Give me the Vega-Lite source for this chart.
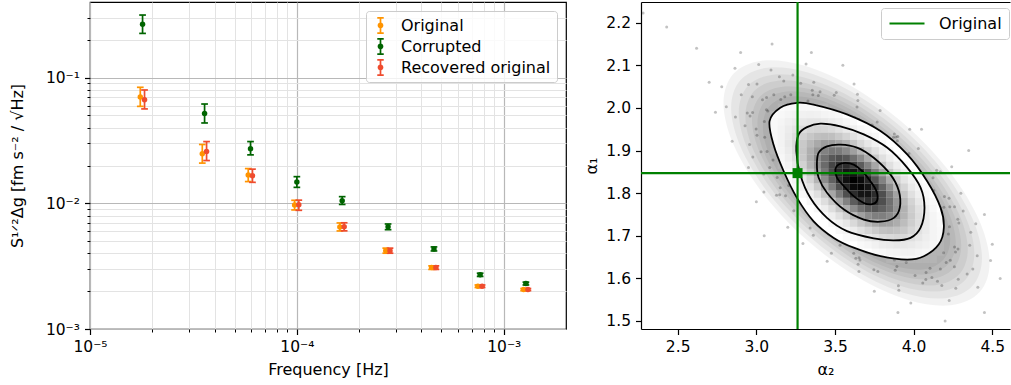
{
"$schema": "https://vega.github.io/schema/vega-lite/v6.json",
"padding": {"left": 8, "top": 0, "right": 0, "bottom": 0},
"spacing": 16,
"config": {
 "font": "DejaVu Sans",
 "view": {"stroke": null},
 "axis": {"labelFont": "DejaVu Sans", "titleFont": "DejaVu Sans", "labelFontSize": 15.5, "titleFontSize": 16, "titleFontWeight": "normal", "labelColor": "black", "titleColor": "black", "tickColor": "black", "domainColor": "black", "labelFlush": false},
 "legend": {"labelFont": "DejaVu Sans", "labelFontSize": 16, "labelColor": "black"}
},
"resolve": {"scale": {"color": "independent", "stroke": "independent", "fill": "independent"}, "legend": {"color": "independent", "stroke": "independent"}},
"datasets": {
 "psd": [
  {"s":"Original","f":1.75e-5,"y":0.0702,"lo":0.0591,"hi":0.0838},
  {"s":"Original","f":3.49e-5,"y":0.0248,"lo":0.0209,"hi":0.0294},
  {"s":"Original","f":5.82e-5,"y":0.0168,"lo":0.0149,"hi":0.0189},
  {"s":"Original","f":9.75e-5,"y":0.0097,"lo":0.00886,"hi":0.01057},
  {"s":"Original","f":1.614e-4,"y":0.00649,"lo":0.00603,"hi":0.00698},
  {"s":"Original","f":2.69e-4,"y":0.0042,"lo":0.00401,"hi":0.0044},
  {"s":"Original","f":4.48e-4,"y":0.00308,"lo":0.00298,"hi":0.00318},
  {"s":"Original","f":7.5e-4,"y":0.00219,"lo":0.00214,"hi":0.00224},
  {"s":"Original","f":1.248e-3,"y":0.00206,"lo":0.00202,"hi":0.0021},
  {"s":"Corrupted","f":1.795e-5,"y":0.266,"lo":0.225,"hi":0.315},
  {"s":"Corrupted","f":3.58e-5,"y":0.0518,"lo":0.0436,"hi":0.0617},
  {"s":"Corrupted","f":5.97e-5,"y":0.0272,"lo":0.0243,"hi":0.031},
  {"s":"Corrupted","f":1.0e-4,"y":0.0148,"lo":0.0134,"hi":0.0163},
  {"s":"Corrupted","f":1.656e-4,"y":0.0105,"lo":0.0098,"hi":0.0113},
  {"s":"Corrupted","f":2.76e-4,"y":0.00652,"lo":0.00617,"hi":0.00685},
  {"s":"Corrupted","f":4.6e-4,"y":0.00433,"lo":0.00418,"hi":0.0045},
  {"s":"Corrupted","f":7.69e-4,"y":0.0027,"lo":0.00262,"hi":0.00278},
  {"s":"Corrupted","f":1.28e-3,"y":0.0023,"lo":0.00224,"hi":0.00236},
  {"s":"Recovered original","f":1.835e-5,"y":0.0668,"lo":0.0564,"hi":0.0798},
  {"s":"Recovered original","f":3.66e-5,"y":0.0259,"lo":0.0219,"hi":0.031},
  {"s":"Recovered original","f":6.1e-5,"y":0.0166,"lo":0.0147,"hi":0.0187},
  {"s":"Recovered original","f":1.022e-4,"y":0.00976,"lo":0.0088,"hi":0.0106},
  {"s":"Recovered original","f":1.693e-4,"y":0.0065,"lo":0.00604,"hi":0.007},
  {"s":"Recovered original","f":2.82e-4,"y":0.0042,"lo":0.00401,"hi":0.0044},
  {"s":"Recovered original","f":4.7e-4,"y":0.00308,"lo":0.00298,"hi":0.00318},
  {"s":"Recovered original","f":7.86e-4,"y":0.00219,"lo":0.00214,"hi":0.00224},
  {"s":"Recovered original","f":1.309e-3,"y":0.00206,"lo":0.00202,"hi":0.0021}
 ],
 "cells": [
  {"x":3.848,"y":1.6445,"d":0.14},{"x":3.894,"y":1.6445,"d":0.15},{"x":3.94,"y":1.6445,"d":0.16},{"x":3.986,"y":1.6445,"d":0.17},{"x":4.032,"y":1.6445,"d":0.16},{"x":4.078,"y":1.6445,"d":0.15},{"x":4.124,"y":1.6445,"d":0.13},
  {"x":3.756,"y":1.6615,"d":0.15},{"x":3.802,"y":1.6615,"d":0.18},{"x":3.848,"y":1.6615,"d":0.21},{"x":3.894,"y":1.6615,"d":0.22},{"x":3.94,"y":1.6615,"d":0.23},{"x":3.986,"y":1.6615,"d":0.23},{"x":4.032,"y":1.6615,"d":0.21},{"x":4.078,"y":1.6615,"d":0.19},{"x":4.124,"y":1.6615,"d":0.16},{"x":4.17,"y":1.6615,"d":0.13},
  {"x":3.664,"y":1.6785,"d":0.15},{"x":3.71,"y":1.6785,"d":0.19},{"x":3.756,"y":1.6785,"d":0.23},{"x":3.802,"y":1.6785,"d":0.27},{"x":3.848,"y":1.6785,"d":0.29},{"x":3.894,"y":1.6785,"d":0.31},{"x":3.94,"y":1.6785,"d":0.30},{"x":3.986,"y":1.6785,"d":0.29},{"x":4.032,"y":1.6785,"d":0.26},{"x":4.078,"y":1.6785,"d":0.23},{"x":4.124,"y":1.6785,"d":0.19},{"x":4.17,"y":1.6785,"d":0.15},
  {"x":3.572,"y":1.6955,"d":0.14},{"x":3.618,"y":1.6955,"d":0.18},{"x":3.664,"y":1.6955,"d":0.23},{"x":3.71,"y":1.6955,"d":0.29},{"x":3.756,"y":1.6955,"d":0.33},{"x":3.802,"y":1.6955,"d":0.37},{"x":3.848,"y":1.6955,"d":0.39},{"x":3.894,"y":1.6955,"d":0.40},{"x":3.94,"y":1.6955,"d":0.38},{"x":3.986,"y":1.6955,"d":0.35},{"x":4.032,"y":1.6955,"d":0.31},{"x":4.078,"y":1.6955,"d":0.26},{"x":4.124,"y":1.6955,"d":0.21},{"x":4.17,"y":1.6955,"d":0.16},
  {"x":3.526,"y":1.7125,"d":0.16},{"x":3.572,"y":1.7125,"d":0.21},{"x":3.618,"y":1.7125,"d":0.27},{"x":3.664,"y":1.7125,"d":0.34},{"x":3.71,"y":1.7125,"d":0.40},{"x":3.756,"y":1.7125,"d":0.45},{"x":3.802,"y":1.7125,"d":0.49},{"x":3.848,"y":1.7125,"d":0.50},{"x":3.894,"y":1.7125,"d":0.49},{"x":3.94,"y":1.7125,"d":0.46},{"x":3.986,"y":1.7125,"d":0.40},{"x":4.032,"y":1.7125,"d":0.34},{"x":4.078,"y":1.7125,"d":0.28},{"x":4.124,"y":1.7125,"d":0.21},{"x":4.17,"y":1.7125,"d":0.16},
  {"x":3.48,"y":1.7295,"d":0.17},{"x":3.526,"y":1.7295,"d":0.24},{"x":3.572,"y":1.7295,"d":0.31},{"x":3.618,"y":1.7295,"d":0.39},{"x":3.664,"y":1.7295,"d":0.47},{"x":3.71,"y":1.7295,"d":0.53},{"x":3.756,"y":1.7295,"d":0.58},{"x":3.802,"y":1.7295,"d":0.61},{"x":3.848,"y":1.7295,"d":0.60},{"x":3.894,"y":1.7295,"d":0.57},{"x":3.94,"y":1.7295,"d":0.51},{"x":3.986,"y":1.7295,"d":0.44},{"x":4.032,"y":1.7295,"d":0.36},{"x":4.078,"y":1.7295,"d":0.28},{"x":4.124,"y":1.7295,"d":0.21},{"x":4.17,"y":1.7295,"d":0.15},
  {"x":3.434,"y":1.7465,"d":0.18},{"x":3.48,"y":1.7465,"d":0.25},{"x":3.526,"y":1.7465,"d":0.34},{"x":3.572,"y":1.7465,"d":0.43},{"x":3.618,"y":1.7465,"d":0.52},{"x":3.664,"y":1.7465,"d":0.61},{"x":3.71,"y":1.7465,"d":0.67},{"x":3.756,"y":1.7465,"d":0.71},{"x":3.802,"y":1.7465,"d":0.71},{"x":3.848,"y":1.7465,"d":0.68},{"x":3.894,"y":1.7465,"d":0.63},{"x":3.94,"y":1.7465,"d":0.54},{"x":3.986,"y":1.7465,"d":0.45},{"x":4.032,"y":1.7465,"d":0.36},{"x":4.078,"y":1.7465,"d":0.27},{"x":4.124,"y":1.7465,"d":0.20},{"x":4.17,"y":1.7465,"d":0.13},
  {"x":3.388,"y":1.7635,"d":0.18},{"x":3.434,"y":1.7635,"d":0.26},{"x":3.48,"y":1.7635,"d":0.36},{"x":3.526,"y":1.7635,"d":0.46},{"x":3.572,"y":1.7635,"d":0.57},{"x":3.618,"y":1.7635,"d":0.67},{"x":3.664,"y":1.7635,"d":0.75},{"x":3.71,"y":1.7635,"d":0.80},{"x":3.756,"y":1.7635,"d":0.82},{"x":3.802,"y":1.7635,"d":0.79},{"x":3.848,"y":1.7635,"d":0.74},{"x":3.894,"y":1.7635,"d":0.65},{"x":3.94,"y":1.7635,"d":0.55},{"x":3.986,"y":1.7635,"d":0.44},{"x":4.032,"y":1.7635,"d":0.34},{"x":4.078,"y":1.7635,"d":0.25},{"x":4.124,"y":1.7635,"d":0.17},
  {"x":3.342,"y":1.7805,"d":0.18},{"x":3.388,"y":1.7805,"d":0.26},{"x":3.434,"y":1.7805,"d":0.36},{"x":3.48,"y":1.7805,"d":0.47},{"x":3.526,"y":1.7805,"d":0.59},{"x":3.572,"y":1.7805,"d":0.70},{"x":3.618,"y":1.7805,"d":0.80},{"x":3.664,"y":1.7805,"d":0.87},{"x":3.71,"y":1.7805,"d":0.90},{"x":3.756,"y":1.7805,"d":0.89},{"x":3.802,"y":1.7805,"d":0.83},{"x":3.848,"y":1.7805,"d":0.75},{"x":3.894,"y":1.7805,"d":0.64},{"x":3.94,"y":1.7805,"d":0.52},{"x":3.986,"y":1.7805,"d":0.41},{"x":4.032,"y":1.7805,"d":0.30},{"x":4.078,"y":1.7805,"d":0.21},{"x":4.124,"y":1.7805,"d":0.14},
  {"x":3.296,"y":1.7975,"d":0.17},{"x":3.342,"y":1.7975,"d":0.25},{"x":3.388,"y":1.7975,"d":0.35},{"x":3.434,"y":1.7975,"d":0.47},{"x":3.48,"y":1.7975,"d":0.59},{"x":3.526,"y":1.7975,"d":0.72},{"x":3.572,"y":1.7975,"d":0.83},{"x":3.618,"y":1.7975,"d":0.91},{"x":3.664,"y":1.7975,"d":0.96},{"x":3.71,"y":1.7975,"d":0.96},{"x":3.756,"y":1.7975,"d":0.91},{"x":3.802,"y":1.7975,"d":0.83},{"x":3.848,"y":1.7975,"d":0.72},{"x":3.894,"y":1.7975,"d":0.60},{"x":3.94,"y":1.7975,"d":0.47},{"x":3.986,"y":1.7975,"d":0.35},{"x":4.032,"y":1.7975,"d":0.25},{"x":4.078,"y":1.7975,"d":0.17},
  {"x":3.25,"y":1.8145,"d":0.16},{"x":3.296,"y":1.8145,"d":0.24},{"x":3.342,"y":1.8145,"d":0.33},{"x":3.388,"y":1.8145,"d":0.45},{"x":3.434,"y":1.8145,"d":0.58},{"x":3.48,"y":1.8145,"d":0.71},{"x":3.526,"y":1.8145,"d":0.83},{"x":3.572,"y":1.8145,"d":0.92},{"x":3.618,"y":1.8145,"d":0.98},{"x":3.664,"y":1.8145,"d":0.99},{"x":3.71,"y":1.8145,"d":0.96},{"x":3.756,"y":1.8145,"d":0.89},{"x":3.802,"y":1.8145,"d":0.78},{"x":3.848,"y":1.8145,"d":0.66},{"x":3.894,"y":1.8145,"d":0.52},{"x":3.94,"y":1.8145,"d":0.40},{"x":3.986,"y":1.8145,"d":0.29},{"x":4.032,"y":1.8145,"d":0.20},{"x":4.078,"y":1.8145,"d":0.13},
  {"x":3.204,"y":1.8315,"d":0.14},{"x":3.25,"y":1.8315,"d":0.21},{"x":3.296,"y":1.8315,"d":0.30},{"x":3.342,"y":1.8315,"d":0.41},{"x":3.388,"y":1.8315,"d":0.54},{"x":3.434,"y":1.8315,"d":0.67},{"x":3.48,"y":1.8315,"d":0.79},{"x":3.526,"y":1.8315,"d":0.90},{"x":3.572,"y":1.8315,"d":0.97},{"x":3.618,"y":1.8315,"d":1.0},{"x":3.664,"y":1.8315,"d":0.98},{"x":3.71,"y":1.8315,"d":0.92},{"x":3.756,"y":1.8315,"d":0.82},{"x":3.802,"y":1.8315,"d":0.70},{"x":3.848,"y":1.8315,"d":0.57},{"x":3.894,"y":1.8315,"d":0.44},{"x":3.94,"y":1.8315,"d":0.32},{"x":3.986,"y":1.8315,"d":0.23},{"x":4.032,"y":1.8315,"d":0.15},
  {"x":3.204,"y":1.8485,"d":0.18},{"x":3.25,"y":1.8485,"d":0.26},{"x":3.296,"y":1.8485,"d":0.37},{"x":3.342,"y":1.8485,"d":0.48},{"x":3.388,"y":1.8485,"d":0.61},{"x":3.434,"y":1.8485,"d":0.73},{"x":3.48,"y":1.8485,"d":0.84},{"x":3.526,"y":1.8485,"d":0.92},{"x":3.572,"y":1.8485,"d":0.96},{"x":3.618,"y":1.8485,"d":0.96},{"x":3.664,"y":1.8485,"d":0.91},{"x":3.71,"y":1.8485,"d":0.82},{"x":3.756,"y":1.8485,"d":0.71},{"x":3.802,"y":1.8485,"d":0.59},{"x":3.848,"y":1.8485,"d":0.46},{"x":3.894,"y":1.8485,"d":0.34},{"x":3.94,"y":1.8485,"d":0.25},{"x":3.986,"y":1.8485,"d":0.17},
  {"x":3.158,"y":1.8655,"d":0.15},{"x":3.204,"y":1.8655,"d":0.22},{"x":3.25,"y":1.8655,"d":0.31},{"x":3.296,"y":1.8655,"d":0.42},{"x":3.342,"y":1.8655,"d":0.54},{"x":3.388,"y":1.8655,"d":0.66},{"x":3.434,"y":1.8655,"d":0.76},{"x":3.48,"y":1.8655,"d":0.85},{"x":3.526,"y":1.8655,"d":0.90},{"x":3.572,"y":1.8655,"d":0.91},{"x":3.618,"y":1.8655,"d":0.87},{"x":3.664,"y":1.8655,"d":0.80},{"x":3.71,"y":1.8655,"d":0.70},{"x":3.756,"y":1.8655,"d":0.59},{"x":3.802,"y":1.8655,"d":0.47},{"x":3.848,"y":1.8655,"d":0.35},{"x":3.894,"y":1.8655,"d":0.26},{"x":3.94,"y":1.8655,"d":0.18},
  {"x":3.158,"y":1.8825,"d":0.18},{"x":3.204,"y":1.8825,"d":0.26},{"x":3.25,"y":1.8825,"d":0.35},{"x":3.296,"y":1.8825,"d":0.46},{"x":3.342,"y":1.8825,"d":0.57},{"x":3.388,"y":1.8825,"d":0.67},{"x":3.434,"y":1.8825,"d":0.75},{"x":3.48,"y":1.8825,"d":0.81},{"x":3.526,"y":1.8825,"d":0.83},{"x":3.572,"y":1.8825,"d":0.81},{"x":3.618,"y":1.8825,"d":0.75},{"x":3.664,"y":1.8825,"d":0.67},{"x":3.71,"y":1.8825,"d":0.57},{"x":3.756,"y":1.8825,"d":0.46},{"x":3.802,"y":1.8825,"d":0.35},{"x":3.848,"y":1.8825,"d":0.26},{"x":3.894,"y":1.8825,"d":0.18},
  {"x":3.112,"y":1.8995,"d":0.14},{"x":3.158,"y":1.8995,"d":0.21},{"x":3.204,"y":1.8995,"d":0.28},{"x":3.25,"y":1.8995,"d":0.37},{"x":3.296,"y":1.8995,"d":0.47},{"x":3.342,"y":1.8995,"d":0.56},{"x":3.388,"y":1.8995,"d":0.64},{"x":3.434,"y":1.8995,"d":0.70},{"x":3.48,"y":1.8995,"d":0.73},{"x":3.526,"y":1.8995,"d":0.72},{"x":3.572,"y":1.8995,"d":0.68},{"x":3.618,"y":1.8995,"d":0.61},{"x":3.664,"y":1.8995,"d":0.53},{"x":3.71,"y":1.8995,"d":0.43},{"x":3.756,"y":1.8995,"d":0.34},{"x":3.802,"y":1.8995,"d":0.25},{"x":3.848,"y":1.8995,"d":0.18},
  {"x":3.112,"y":1.9165,"d":0.16},{"x":3.158,"y":1.9165,"d":0.22},{"x":3.204,"y":1.9165,"d":0.30},{"x":3.25,"y":1.9165,"d":0.38},{"x":3.296,"y":1.9165,"d":0.46},{"x":3.342,"y":1.9165,"d":0.53},{"x":3.388,"y":1.9165,"d":0.58},{"x":3.434,"y":1.9165,"d":0.62},{"x":3.48,"y":1.9165,"d":0.62},{"x":3.526,"y":1.9165,"d":0.59},{"x":3.572,"y":1.9165,"d":0.54},{"x":3.618,"y":1.9165,"d":0.47},{"x":3.664,"y":1.9165,"d":0.39},{"x":3.71,"y":1.9165,"d":0.31},{"x":3.756,"y":1.9165,"d":0.23},{"x":3.802,"y":1.9165,"d":0.17},
  {"x":3.112,"y":1.9335,"d":0.17},{"x":3.158,"y":1.9335,"d":0.22},{"x":3.204,"y":1.9335,"d":0.29},{"x":3.25,"y":1.9335,"d":0.36},{"x":3.296,"y":1.9335,"d":0.42},{"x":3.342,"y":1.9335,"d":0.47},{"x":3.388,"y":1.9335,"d":0.50},{"x":3.434,"y":1.9335,"d":0.51},{"x":3.48,"y":1.9335,"d":0.50},{"x":3.526,"y":1.9335,"d":0.46},{"x":3.572,"y":1.9335,"d":0.41},{"x":3.618,"y":1.9335,"d":0.34},{"x":3.664,"y":1.9335,"d":0.28},{"x":3.71,"y":1.9335,"d":0.21},{"x":3.756,"y":1.9335,"d":0.16},
  {"x":3.112,"y":1.9505,"d":0.17},{"x":3.158,"y":1.9505,"d":0.22},{"x":3.204,"y":1.9505,"d":0.27},{"x":3.25,"y":1.9505,"d":0.32},{"x":3.296,"y":1.9505,"d":0.37},{"x":3.342,"y":1.9505,"d":0.40},{"x":3.388,"y":1.9505,"d":0.41},{"x":3.434,"y":1.9505,"d":0.40},{"x":3.48,"y":1.9505,"d":0.38},{"x":3.526,"y":1.9505,"d":0.34},{"x":3.572,"y":1.9505,"d":0.29},{"x":3.618,"y":1.9505,"d":0.24},{"x":3.664,"y":1.9505,"d":0.18},{"x":3.71,"y":1.9505,"d":0.14},
  {"x":3.112,"y":1.9675,"d":0.16},{"x":3.158,"y":1.9675,"d":0.20},{"x":3.204,"y":1.9675,"d":0.24},{"x":3.25,"y":1.9675,"d":0.27},{"x":3.296,"y":1.9675,"d":0.30},{"x":3.342,"y":1.9675,"d":0.32},{"x":3.388,"y":1.9675,"d":0.32},{"x":3.434,"y":1.9675,"d":0.30},{"x":3.48,"y":1.9675,"d":0.27},{"x":3.526,"y":1.9675,"d":0.24},{"x":3.572,"y":1.9675,"d":0.20},{"x":3.618,"y":1.9675,"d":0.15},
  {"x":3.112,"y":1.9845,"d":0.14},{"x":3.158,"y":1.9845,"d":0.17},{"x":3.204,"y":1.9845,"d":0.20},{"x":3.25,"y":1.9845,"d":0.22},{"x":3.296,"y":1.9845,"d":0.23},{"x":3.342,"y":1.9845,"d":0.24},{"x":3.388,"y":1.9845,"d":0.23},{"x":3.434,"y":1.9845,"d":0.21},{"x":3.48,"y":1.9845,"d":0.19},{"x":3.526,"y":1.9845,"d":0.16},
  {"x":3.158,"y":2.0015,"d":0.14},{"x":3.204,"y":2.0015,"d":0.16},{"x":3.25,"y":2.0015,"d":0.17},{"x":3.296,"y":2.0015,"d":0.17},{"x":3.342,"y":2.0015,"d":0.17},{"x":3.388,"y":2.0015,"d":0.16},{"x":3.434,"y":2.0015,"d":0.14}
 ],
 "haze": [
  {"lv":"A","i":0,"x":4.189,"y":1.644},{"lv":"A","i":1,"x":4.233,"y":1.693},{"lv":"A","i":2,"x":4.186,"y":1.763},{"lv":"A","i":3,"x":4.057,"y":1.841},{"lv":"A","i":4,"x":3.862,"y":1.918},{"lv":"A","i":5,"x":3.634,"y":1.98},{"lv":"A","i":6,"x":3.406,"y":2.018},{"lv":"A","i":7,"x":3.213,"y":2.027},{"lv":"A","i":8,"x":3.085,"y":2.005},{"lv":"A","i":9,"x":3.041,"y":1.955},{"lv":"A","i":10,"x":3.088,"y":1.885},{"lv":"A","i":11,"x":3.218,"y":1.807},{"lv":"A","i":12,"x":3.412,"y":1.73},{"lv":"A","i":13,"x":3.64,"y":1.668},{"lv":"A","i":14,"x":3.868,"y":1.63},{"lv":"A","i":15,"x":4.061,"y":1.621},
  {"lv":"AB","i":0,"x":4.221,"y":1.6335},{"lv":"AB","i":1,"x":4.268,"y":1.6855},{"lv":"AB","i":2,"x":4.218,"y":1.759},{"lv":"AB","i":3,"x":4.081,"y":1.842},{"lv":"AB","i":4,"x":3.8755,"y":1.923},{"lv":"AB","i":5,"x":3.634,"y":1.989},{"lv":"AB","i":6,"x":3.393,"y":2.029},{"lv":"AB","i":7,"x":3.1885,"y":2.0385},{"lv":"AB","i":8,"x":3.053,"y":2.0155},{"lv":"AB","i":9,"x":3.0065,"y":1.9625},{"lv":"AB","i":10,"x":3.056,"y":1.889},{"lv":"AB","i":11,"x":3.1935,"y":1.806},{"lv":"AB","i":12,"x":3.399,"y":1.725},{"lv":"AB","i":13,"x":3.6405,"y":1.659},{"lv":"AB","i":14,"x":3.8815,"y":1.619},{"lv":"AB","i":15,"x":4.0855,"y":1.6095},
  {"lv":"B","i":0,"x":4.253,"y":1.623},{"lv":"B","i":1,"x":4.303,"y":1.678},{"lv":"B","i":2,"x":4.25,"y":1.755},{"lv":"B","i":3,"x":4.105,"y":1.843},{"lv":"B","i":4,"x":3.889,"y":1.928},{"lv":"B","i":5,"x":3.634,"y":1.998},{"lv":"B","i":6,"x":3.38,"y":2.04},{"lv":"B","i":7,"x":3.164,"y":2.05},{"lv":"B","i":8,"x":3.021,"y":2.026},{"lv":"B","i":9,"x":2.972,"y":1.97},{"lv":"B","i":10,"x":3.024,"y":1.893},{"lv":"B","i":11,"x":3.169,"y":1.805},{"lv":"B","i":12,"x":3.386,"y":1.72},{"lv":"B","i":13,"x":3.641,"y":1.65},{"lv":"B","i":14,"x":3.895,"y":1.608},{"lv":"B","i":15,"x":4.11,"y":1.598},
  {"lv":"BC","i":0,"x":4.2915,"y":1.61},{"lv":"BC","i":1,"x":4.3445,"y":1.669},{"lv":"BC","i":2,"x":4.2885,"y":1.751},{"lv":"BC","i":3,"x":4.1345,"y":1.8445},{"lv":"BC","i":4,"x":3.9045,"y":1.935},{"lv":"BC","i":5,"x":3.6335,"y":2.0085},{"lv":"BC","i":6,"x":3.3635,"y":2.0535},{"lv":"BC","i":7,"x":3.1345,"y":2.064},{"lv":"BC","i":8,"x":2.9825,"y":2.0385},{"lv":"BC","i":9,"x":2.93,"y":1.979},{"lv":"BC","i":10,"x":2.9855,"y":1.897},{"lv":"BC","i":11,"x":3.1395,"y":1.8035},{"lv":"BC","i":12,"x":3.37,"y":1.7135},{"lv":"BC","i":13,"x":3.641,"y":1.6395},{"lv":"BC","i":14,"x":3.911,"y":1.5945},{"lv":"BC","i":15,"x":4.1395,"y":1.584},
  {"lv":"C","i":0,"x":4.33,"y":1.597},{"lv":"C","i":1,"x":4.386,"y":1.66},{"lv":"C","i":2,"x":4.327,"y":1.747},{"lv":"C","i":3,"x":4.164,"y":1.846},{"lv":"C","i":4,"x":3.92,"y":1.942},{"lv":"C","i":5,"x":3.633,"y":2.019},{"lv":"C","i":6,"x":3.347,"y":2.067},{"lv":"C","i":7,"x":3.105,"y":2.078},{"lv":"C","i":8,"x":2.944,"y":2.051},{"lv":"C","i":9,"x":2.888,"y":1.988},{"lv":"C","i":10,"x":2.947,"y":1.901},{"lv":"C","i":11,"x":3.11,"y":1.802},{"lv":"C","i":12,"x":3.354,"y":1.707},{"lv":"C","i":13,"x":3.641,"y":1.629},{"lv":"C","i":14,"x":3.927,"y":1.581},{"lv":"C","i":15,"x":4.169,"y":1.57},
  {"lv":"CD","i":0,"x":4.375,"y":1.5825},{"lv":"CD","i":1,"x":4.4345,"y":1.649},{"lv":"CD","i":2,"x":4.3715,"y":1.742},{"lv":"CD","i":3,"x":4.198,"y":1.8475},{"lv":"CD","i":4,"x":3.9385,"y":1.9495},{"lv":"CD","i":5,"x":3.633,"y":2.032},{"lv":"CD","i":6,"x":3.3285,"y":2.083},{"lv":"CD","i":7,"x":3.0705,"y":2.0945},{"lv":"CD","i":8,"x":2.899,"y":2.0655},{"lv":"CD","i":9,"x":2.8395,"y":1.999},{"lv":"CD","i":10,"x":2.9025,"y":1.906},{"lv":"CD","i":11,"x":3.076,"y":1.8005},{"lv":"CD","i":12,"x":3.3355,"y":1.699},{"lv":"CD","i":13,"x":3.6415,"y":1.616},{"lv":"CD","i":14,"x":3.9455,"y":1.565},{"lv":"CD","i":15,"x":4.2035,"y":1.5535},
  {"lv":"D","i":0,"x":4.42,"y":1.568},{"lv":"D","i":1,"x":4.483,"y":1.638},{"lv":"D","i":2,"x":4.416,"y":1.737},{"lv":"D","i":3,"x":4.232,"y":1.849},{"lv":"D","i":4,"x":3.957,"y":1.957},{"lv":"D","i":5,"x":3.633,"y":2.045},{"lv":"D","i":6,"x":3.31,"y":2.099},{"lv":"D","i":7,"x":3.036,"y":2.111},{"lv":"D","i":8,"x":2.854,"y":2.08},{"lv":"D","i":9,"x":2.791,"y":2.01},{"lv":"D","i":10,"x":2.858,"y":1.911},{"lv":"D","i":11,"x":3.042,"y":1.799},{"lv":"D","i":12,"x":3.317,"y":1.691},{"lv":"D","i":13,"x":3.642,"y":1.603},{"lv":"D","i":14,"x":3.964,"y":1.549},{"lv":"D","i":15,"x":4.238,"y":1.537}
 ],
 "pts": [
  {"x":4.207,"y":1.637},{"x":4.221,"y":1.704},{"x":4.192,"y":1.767},{"x":4.036,"y":1.832},{"x":3.872,"y":1.931},{"x":3.652,"y":1.973},{"x":3.394,"y":2.029},{"x":3.219,"y":2.031},{"x":3.064,"y":1.996},{"x":3.051,"y":1.968},{"x":3.106,"y":1.878},{"x":3.206,"y":1.818},{"x":3.418,"y":1.734},{"x":3.619,"y":1.659},{"x":3.878,"y":1.643},{"x":4.079,"y":1.614},
  {"x":4.259,"y":1.627},{"x":4.282,"y":1.669},{"x":4.26,"y":1.768},{"x":4.123,"y":1.836},{"x":3.877,"y":1.939},{"x":3.64,"y":2.002},{"x":3.359,"y":2.031},{"x":3.174,"y":2.063},{"x":3.039,"y":2.019},{"x":2.96,"y":1.981},{"x":3.03,"y":1.897},{"x":3.148,"y":1.796},{"x":3.396,"y":1.733},{"x":3.659,"y":1.643},{"x":3.883,"y":1.619},{"x":4.116,"y":1.602},
  {"x":4.34,"y":1.61},{"x":4.404,"y":1.653},{"x":4.315,"y":1.758},{"x":4.17,"y":1.85},{"x":3.899,"y":1.933},{"x":3.643,"y":2.032},{"x":3.365,"y":2.06},{"x":3.093,"y":2.089},{"x":2.95,"y":2.055},{"x":2.867,"y":1.979},{"x":2.957,"y":1.914},{"x":3.128,"y":1.795},{"x":3.342,"y":1.718},{"x":3.647,"y":1.633},{"x":3.906,"y":1.572},{"x":4.179,"y":1.583},
  {"x":4.408,"y":1.579},{"x":4.489,"y":1.642},{"x":4.395,"y":1.728},{"x":4.242,"y":1.862},{"x":3.975,"y":1.95},{"x":3.621,"y":2.056},{"x":3.316,"y":2.103},{"x":3.015,"y":2.102},{"x":2.864,"y":2.093},{"x":2.809,"y":2.003},{"x":2.846,"y":1.922},{"x":3.048,"y":1.803},{"x":3.296,"y":1.682},{"x":3.652,"y":1.616},{"x":3.982,"y":1.542},{"x":4.226,"y":1.548},
  {"x":4.19,"y":1.66},{"x":4.228,"y":1.721},{"x":4.128,"y":1.806},{"x":3.97,"y":1.893},{"x":3.736,"y":1.96},{"x":3.499,"y":1.99},{"x":3.328,"y":2.016},{"x":3.155,"y":2.02},{"x":3.073,"y":1.993},{"x":3.053,"y":1.931},{"x":3.132,"y":1.837},{"x":3.333,"y":1.762},{"x":3.532,"y":1.703},{"x":3.764,"y":1.662},{"x":3.953,"y":1.637},{"x":4.104,"y":1.624},
  {"x":4.266,"y":1.662},{"x":4.287,"y":1.73},{"x":4.196,"y":1.792},{"x":3.976,"y":1.877},{"x":3.768,"y":1.967},{"x":3.495,"y":2.03},{"x":3.282,"y":2.058},{"x":3.111,"y":2.031},{"x":2.976,"y":1.989},{"x":3.004,"y":1.936},{"x":3.085,"y":1.86},{"x":3.288,"y":1.776},{"x":3.532,"y":1.678},{"x":3.747,"y":1.62},{"x":4.009,"y":1.607},{"x":4.17,"y":1.622},
  {"x":4.376,"y":1.622},{"x":4.363,"y":1.708},{"x":4.225,"y":1.788},{"x":4.03,"y":1.905},{"x":3.787,"y":1.994},{"x":3.508,"y":2.036},{"x":3.232,"y":2.077},{"x":3.004,"y":2.056},{"x":2.904,"y":2.031},{"x":2.928,"y":1.958},{"x":3.047,"y":1.845},{"x":3.238,"y":1.759},{"x":3.477,"y":1.659},{"x":3.772,"y":1.616},{"x":4.058,"y":1.589},{"x":4.268,"y":1.577},
  {"x":4.233,"y":1.6425},{"x":4.26,"y":1.6735},{"x":4.23,"y":1.768},{"x":4.073,"y":1.83},{"x":3.8875,"y":1.932},{"x":3.626,"y":1.977},{"x":3.405,"y":2.038},{"x":3.1805,"y":2.0265},{"x":3.065,"y":2.0245},{"x":2.9985,"y":1.9505},{"x":3.068,"y":1.898},{"x":3.1855,"y":1.794},{"x":3.411,"y":1.734},{"x":3.6325,"y":1.647},{"x":3.8935,"y":1.628},{"x":4.0775,"y":1.5975},
  {"x":4.2835,"y":1.598},{"x":4.3565,"y":1.678},{"x":4.2805,"y":1.739},{"x":4.1465,"y":1.8535},{"x":3.8965,"y":1.923},{"x":3.6455,"y":2.0175},{"x":3.3555,"y":2.0415},{"x":3.1465,"y":2.073},{"x":2.9745,"y":2.0265},{"x":2.942,"y":1.988},{"x":2.9775,"y":1.885},{"x":3.1515,"y":1.8125},{"x":3.362,"y":1.7015},{"x":3.653,"y":1.6485},{"x":3.903,"y":1.5825},{"x":4.1515,"y":1.593},
  {"x":2.28,"y":2.223},{"x":2.43,"y":2.19},{"x":2.62,"y":2.14},{"x":2.7,"y":2.06},{"x":2.74,"y":1.99},{"x":2.9,"y":2.13},{"x":3.1,"y":2.15},{"x":3.35,"y":2.13},{"x":2.95,"y":1.86},{"x":3.0,"y":1.78},{"x":3.2,"y":1.72},{"x":3.05,"y":1.7},{"x":4.3,"y":1.8},{"x":4.45,"y":1.75},{"x":4.55,"y":1.6},{"x":4.45,"y":1.52},{"x":4.2,"y":1.5},{"x":3.9,"y":1.52},{"x":3.75,"y":1.57},{"x":4.05,"y":1.95},{"x":4.35,"y":1.9},{"x":3.55,"y":2.1},{"x":2.78,"y":2.05},{"x":3.45,"y":1.64},{"x":4.5,"y":1.68}
 ],
 "cont": [
  {"c":1,"i":0,"x":3.502,"y":1.856},{"c":1,"i":1,"x":3.523,"y":1.867},{"c":1,"i":2,"x":3.566,"y":1.871},{"c":1,"i":3,"x":3.619,"y":1.867},{"c":1,"i":4,"x":3.672,"y":1.852},{"c":1,"i":5,"x":3.725,"y":1.828},{"c":1,"i":6,"x":3.763,"y":1.805},{"c":1,"i":7,"x":3.768,"y":1.783},{"c":1,"i":8,"x":3.736,"y":1.774},{"c":1,"i":9,"x":3.683,"y":1.777},{"c":1,"i":10,"x":3.619,"y":1.793},{"c":1,"i":11,"x":3.555,"y":1.817},{"c":1,"i":12,"x":3.513,"y":1.836},
  {"c":2,"i":0,"x":3.385,"y":1.867},{"c":2,"i":1,"x":3.396,"y":1.895},{"c":2,"i":2,"x":3.449,"y":1.91},{"c":2,"i":3,"x":3.534,"y":1.914},{"c":2,"i":4,"x":3.64,"y":1.907},{"c":2,"i":5,"x":3.746,"y":1.883},{"c":2,"i":6,"x":3.852,"y":1.844},{"c":2,"i":7,"x":3.906,"y":1.805},{"c":2,"i":8,"x":3.912,"y":1.766},{"c":2,"i":9,"x":3.874,"y":1.742},{"c":2,"i":10,"x":3.789,"y":1.733},{"c":2,"i":11,"x":3.683,"y":1.738},{"c":2,"i":12,"x":3.555,"y":1.762},{"c":2,"i":13,"x":3.449,"y":1.801},{"c":2,"i":14,"x":3.396,"y":1.836},
  {"c":3,"i":0,"x":3.254,"y":1.899},{"c":3,"i":1,"x":3.269,"y":1.938},{"c":3,"i":2,"x":3.322,"y":1.955},{"c":3,"i":3,"x":3.407,"y":1.963},{"c":3,"i":4,"x":3.534,"y":1.957},{"c":3,"i":5,"x":3.683,"y":1.938},{"c":3,"i":6,"x":3.831,"y":1.907},{"c":3,"i":7,"x":3.959,"y":1.86},{"c":3,"i":8,"x":4.044,"y":1.813},{"c":3,"i":9,"x":4.069,"y":1.766},{"c":3,"i":10,"x":4.044,"y":1.719},{"c":3,"i":11,"x":3.98,"y":1.695},{"c":3,"i":12,"x":3.874,"y":1.689},{"c":3,"i":13,"x":3.746,"y":1.694},{"c":3,"i":14,"x":3.576,"y":1.711},{"c":3,"i":15,"x":3.449,"y":1.742},{"c":3,"i":16,"x":3.343,"y":1.789},{"c":3,"i":17,"x":3.279,"y":1.844},
  {"c":4,"i":0,"x":3.084,"y":1.969},{"c":4,"i":1,"x":3.152,"y":2.0005},{"c":4,"i":2,"x":3.258,"y":2.012},{"c":4,"i":3,"x":3.364,"y":2.008},{"c":4,"i":4,"x":3.576,"y":1.985},{"c":4,"i":5,"x":3.789,"y":1.946},{"c":4,"i":6,"x":3.959,"y":1.891},{"c":4,"i":7,"x":4.086,"y":1.828},{"c":4,"i":8,"x":4.171,"y":1.766},{"c":4,"i":9,"x":4.192,"y":1.719},{"c":4,"i":10,"x":4.16,"y":1.68},{"c":4,"i":11,"x":4.065,"y":1.652},{"c":4,"i":12,"x":3.959,"y":1.644},{"c":4,"i":13,"x":3.789,"y":1.652},{"c":4,"i":14,"x":3.619,"y":1.672},{"c":4,"i":15,"x":3.492,"y":1.695},{"c":4,"i":16,"x":3.364,"y":1.734},{"c":4,"i":17,"x":3.258,"y":1.789},{"c":4,"i":18,"x":3.173,"y":1.852},{"c":4,"i":19,"x":3.109,"y":1.914}
 ],
 "orig": [{"x":3.262,"y":1.847}]
},
"hconcat": [
 {
  "width": 476, "height": 327,
  "view": {"stroke": "black", "strokeWidth": 1.2},
  "data": {"name": "psd"},
  "resolve": {"axis": {"x": "independent", "y": "independent"}},
  "layer": [
   {
    "mark": {"type": "point", "opacity": 0},
    "encoding": {
     "x": {"field": "f", "type": "quantitative", "scale": {"type": "log", "domain": [0.00001, 0.002], "nice": false},
      "axis": {"orient": "bottom", "values": [0.00002,0.00003,0.00004,0.00005,0.00006,0.00007,0.00008,0.00009,0.0002,0.0003,0.0004,0.0005,0.0006,0.0007,0.0008,0.0009], "labels": false, "tickSize": 3, "tickWidth": 1, "grid": true, "gridColor": "#e3e3e3", "gridWidth": 1, "domain": false, "title": null}},
     "y": {"field": "y", "type": "quantitative", "scale": {"type": "log", "domain": [0.001, 0.4], "nice": false},
      "axis": {"orient": "left", "values": [0.002,0.003,0.004,0.005,0.006,0.007,0.008,0.009,0.02,0.03,0.04,0.05,0.06,0.07,0.08,0.09,0.2,0.3], "labels": false, "tickSize": 3, "tickWidth": 1, "grid": true, "gridColor": "#e3e3e3", "gridWidth": 1, "domain": false, "title": null}}
    }
   },
   {
    "mark": {"type": "rule", "strokeWidth": 1.7},
    "encoding": {
     "x": {"field": "f", "type": "quantitative",
      "axis": {"orient": "bottom", "values": [0.00001, 0.0001, 0.001], "labelExpr": "round(log(datum.value)/LN10) == -5 ? '10⁻⁵' : round(log(datum.value)/LN10) == -4 ? '10⁻⁴' : '10⁻³'", "grid": true, "gridColor": "#b8b8b8", "gridWidth": 1.2, "tickSize": 5.5, "tickWidth": 1.2, "labelPadding": 5, "domain": false, "title": "Frequency [Hz]", "titlePadding": 6}},
     "y": {"field": "lo", "type": "quantitative",
      "axis": {"orient": "left", "values": [0.001, 0.01, 0.1], "labelExpr": "round(log(datum.value)/LN10) == -3 ? '10⁻³' : round(log(datum.value)/LN10) == -2 ? '10⁻²' : '10⁻¹'", "grid": true, "gridColor": "#b8b8b8", "gridWidth": 1.2, "tickSize": 5.5, "tickWidth": 1.2, "labelPadding": 5, "domain": false, "title": "S¹ᐟ²Δg [fm s⁻² / √Hz]", "titlePadding": 20}},
     "y2": {"field": "hi"},
     "stroke": {"field": "s", "type": "nominal", "scale": {"domain": ["Original", "Corrupted", "Recovered original", "none"], "range": ["#ff9400", "#006400", "#ef4c2e", "#000000"]}, "legend": null}
    }
   },
   {
    "mark": {"type": "point", "shape": "M-1,0L1,0", "size": 45, "strokeWidth": 1.7, "filled": false, "opacity": 1},
    "encoding": {
     "x": {"field": "f", "type": "quantitative", "axis": null},
     "y": {"field": "lo", "type": "quantitative", "axis": null},
     "stroke": {"field": "s", "type": "nominal", "legend": null}
    }
   },
   {
    "mark": {"type": "point", "shape": "M-1,0L1,0", "size": 45, "strokeWidth": 1.7, "filled": false, "opacity": 1},
    "encoding": {
     "x": {"field": "f", "type": "quantitative", "axis": null},
     "y": {"field": "hi", "type": "quantitative", "axis": null},
     "stroke": {"field": "s", "type": "nominal", "legend": null}
    }
   },
   {
    "mark": {"type": "point", "shape": "circle", "filled": true, "size": 30, "opacity": 1},
    "encoding": {
     "x": {"field": "f", "type": "quantitative", "axis": null},
     "y": {"field": "y", "type": "quantitative", "axis": null},
     "color": {"field": "s", "type": "nominal", "scale": {"domain": ["Original", "Corrupted", "Recovered original"], "range": ["#ff9400", "#006400", "#ef4c2e"]},
      "legend": {"title": null, "orient": "top-right", "offset": 9, "symbolType": "M-0.1,-1L0.1,-1L0.1,1L-0.1,1Z M-0.38,-1L0.38,-1L0.38,-0.8L-0.38,-0.8Z M-0.38,0.8L0.38,0.8L0.38,1L-0.38,1Z M-0.34,0A0.34,0.34,0,1,1,0.34,0A0.34,0.34,0,1,1,-0.34,0Z", "symbolSize": 289, "symbolStrokeWidth": 0, "symbolOpacity": 1, "labelFontSize": 16, "labelOffset": 12, "padding": 6, "rowPadding": 4, "fillColor": "rgba(255,255,255,0.8)", "strokeColor": "#cccccc", "cornerRadius": 3}}
    }
   }
  ]
 },
 {
  "width": 369, "height": 327,
  "view": {"stroke": null},
  "resolve": {"axis": {"x": "independent", "y": "independent"}},
  "layer": [
   {
    "data": {"name": "haze"},
    "mark": {"type": "line", "interpolate": "cardinal-closed", "fill": "black", "fillOpacity": 0.052, "stroke": "black", "strokeOpacity": 0, "strokeWidth": 0},
    "encoding": {
     "x": {"field": "x", "type": "quantitative", "scale": {"domain": [2.2667, 4.6125], "nice": false, "zero": false},
      "axis": {"orient": "bottom", "values": [2.5, 3, 3.5, 4, 4.5], "format": ".1f", "grid": false, "tickSize": 5.5, "tickWidth": 1.2, "labelPadding": 5, "domain": true, "domainWidth": 1.2, "title": "α₂", "titlePadding": 6}},
     "y": {"field": "y", "type": "quantitative", "scale": {"domain": [1.4812, 2.2486], "nice": false, "zero": false},
      "axis": {"orient": "left", "values": [1.5, 1.6, 1.7, 1.8, 1.9, 2.0, 2.1, 2.2], "format": ".1f", "grid": false, "tickSize": 5.5, "tickWidth": 1.2, "labelPadding": 5, "domain": true, "domainWidth": 1.2, "title": "α₁", "titlePadding": 6}},
     "detail": {"field": "lv", "type": "nominal"},
     "order": {"field": "i", "type": "quantitative"}
    }
   },
   {
    "data": {"name": "pts"},
    "mark": {"type": "point", "filled": true, "size": 9, "color": "black", "opacity": 0.24, "strokeWidth": 0},
    "encoding": {
     "x": {"field": "x", "type": "quantitative", "axis": {"orient": "top", "labels": false, "ticks": false, "grid": false, "domain": true, "domainWidth": 1.2, "title": null}},
     "y": {"field": "y", "type": "quantitative", "axis": null}
    }
   },
   {
    "data": {"name": "cont"},
    "transform": [{"filter": "datum.c == 4"}],
    "mark": {"type": "line", "interpolate": "cardinal-closed", "fill": "white", "stroke": "white", "strokeWidth": 1},
    "encoding": {
     "x": {"field": "x", "type": "quantitative", "axis": null},
     "y": {"field": "y", "type": "quantitative", "axis": null},
     "order": {"field": "i", "type": "quantitative"}
    }
   },
   {
    "data": {"name": "cells"},
    "mark": {"type": "point", "shape": "square", "filled": true, "size": 52.5, "strokeWidth": 0},
    "encoding": {
     "x": {"field": "x", "type": "quantitative", "axis": null},
     "y": {"field": "y", "type": "quantitative", "axis": null},
     "fill": {"field": "d", "type": "quantitative", "scale": {"domain": [0, 1], "range": ["#ffffff", "#000000"], "interpolate": "rgb"}, "legend": null},
     "opacity": {"field": "d", "type": "quantitative", "scale": null}
    }
   },
   {
    "data": {"name": "cont"},
    "mark": {"type": "line", "interpolate": "cardinal-closed", "stroke": "black", "strokeWidth": 1.8},
    "encoding": {
     "x": {"field": "x", "type": "quantitative", "axis": null},
     "y": {"field": "y", "type": "quantitative", "axis": null},
     "detail": {"field": "c", "type": "nominal"},
     "order": {"field": "i", "type": "quantitative"}
    }
   },
   {
    "data": {"name": "orig"},
    "mark": {"type": "rule", "strokeWidth": 2.2},
    "encoding": {
     "x": {"field": "x", "type": "quantitative", "axis": null},
     "stroke": {"datum": "Original", "type": "nominal", "scale": {"domain": ["Original"], "range": ["#008000"]},
      "legend": {"title": null, "orient": "none", "legendX": 240, "legendY": 6, "symbolType": "stroke", "symbolSize": 1225, "clipHeight": 17, "symbolStrokeWidth": 2.2, "labelFontSize": 16, "labelOffset": 13, "padding": 7, "fillColor": "rgba(255,255,255,0.8)", "strokeColor": "#cccccc", "cornerRadius": 3}}
    }
   },
   {
    "data": {"name": "orig"},
    "mark": {"type": "rule", "strokeWidth": 2.2},
    "encoding": {
     "y": {"field": "y", "type": "quantitative", "axis": null},
     "stroke": {"datum": "Original", "type": "nominal"}
    }
   },
   {
    "data": {"name": "orig"},
    "mark": {"type": "point", "shape": "square", "filled": true, "size": 100, "color": "#008000", "opacity": 1},
    "encoding": {
     "x": {"field": "x", "type": "quantitative", "axis": null},
     "y": {"field": "y", "type": "quantitative", "axis": null}
    }
   }
  ]
 }
]
}
